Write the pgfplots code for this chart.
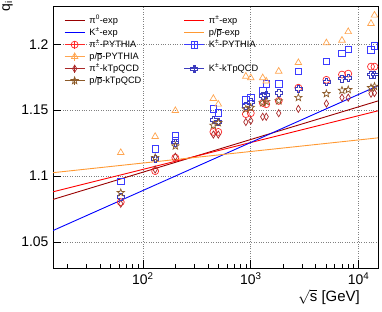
\documentclass[border=0pt]{standalone}
\usepackage{pgfplots}
\pgfplotsset{compat=1.18}
\usepackage{fontspec}
\setmainfont{Liberation Sans}

\definecolor{cPiZexp}{RGB}{153,0,0}
\definecolor{cPiexp}{RGB}{255,0,0}
\definecolor{cKexp}{RGB}{0,0,255}
\definecolor{cPexp}{RGB}{255,153,51}
\definecolor{cPiPY}{RGB}{255,40,40}
\definecolor{cKPY}{RGB}{60,60,255}
\definecolor{cPPY}{RGB}{255,165,80}
\definecolor{cPiKT}{RGB}{170,40,40}
\definecolor{cKKT}{RGB}{60,60,190}
\definecolor{cPKT}{RGB}{140,90,40}

\pgfdeclareplotmark{ostar}{%
  \pgfpathmoveto{\pgfpointpolar{90}{\pgfplotmarksize}}%
  \pgfpathlineto{\pgfpointpolar{126}{0.42\pgfplotmarksize}}%
  \pgfpathlineto{\pgfpointpolar{162}{\pgfplotmarksize}}%
  \pgfpathlineto{\pgfpointpolar{198}{0.42\pgfplotmarksize}}%
  \pgfpathlineto{\pgfpointpolar{234}{\pgfplotmarksize}}%
  \pgfpathlineto{\pgfpointpolar{270}{0.42\pgfplotmarksize}}%
  \pgfpathlineto{\pgfpointpolar{306}{\pgfplotmarksize}}%
  \pgfpathlineto{\pgfpointpolar{342}{0.42\pgfplotmarksize}}%
  \pgfpathlineto{\pgfpointpolar{18}{\pgfplotmarksize}}%
  \pgfpathlineto{\pgfpointpolar{54}{0.42\pgfplotmarksize}}%
  \pgfpathclose\pgfusepathqstroke}
\pgfdeclareplotmark{ocross}{%
  \pgfpathmoveto{\pgfpoint{0.35\pgfplotmarksize}{\pgfplotmarksize}}%
  \pgfpathlineto{\pgfpoint{-0.35\pgfplotmarksize}{\pgfplotmarksize}}%
  \pgfpathlineto{\pgfpoint{-0.35\pgfplotmarksize}{0.35\pgfplotmarksize}}%
  \pgfpathlineto{\pgfpoint{-\pgfplotmarksize}{0.35\pgfplotmarksize}}%
  \pgfpathlineto{\pgfpoint{-\pgfplotmarksize}{-0.35\pgfplotmarksize}}%
  \pgfpathlineto{\pgfpoint{-0.35\pgfplotmarksize}{-0.35\pgfplotmarksize}}%
  \pgfpathlineto{\pgfpoint{-0.35\pgfplotmarksize}{-\pgfplotmarksize}}%
  \pgfpathlineto{\pgfpoint{0.35\pgfplotmarksize}{-\pgfplotmarksize}}%
  \pgfpathlineto{\pgfpoint{0.35\pgfplotmarksize}{-0.35\pgfplotmarksize}}%
  \pgfpathlineto{\pgfpoint{\pgfplotmarksize}{-0.35\pgfplotmarksize}}%
  \pgfpathlineto{\pgfpoint{\pgfplotmarksize}{0.35\pgfplotmarksize}}%
  \pgfpathlineto{\pgfpoint{0.35\pgfplotmarksize}{0.35\pgfplotmarksize}}%
  \pgfpathclose\pgfusepathqstroke}
\pgfdeclareplotmark{odiam}{%
  \pgfpathmoveto{\pgfpoint{0pt}{\pgfplotmarksize}}%
  \pgfpathlineto{\pgfpoint{0.6\pgfplotmarksize}{0pt}}%
  \pgfpathlineto{\pgfpoint{0pt}{-\pgfplotmarksize}}%
  \pgfpathlineto{\pgfpoint{-0.6\pgfplotmarksize}{0pt}}%
  \pgfpathclose\pgfusepathqstroke}

\pgfplotsset{
  expleg/.style={legend image code/.code={\draw[##1] (0bp,0bp) -- (20bp,0bp);}},
  mkleg/.style={legend image code/.code={%
     \draw[##1] (0bp,0bp) -- (20bp,0bp);
     \draw[##1] (10bp,-4bp) -- (10bp,4bp);
     \draw[##1] plot coordinates {(10bp,0bp)};}},
}

\newcommand{\pbar}{p/$\overline{\mbox{p}}$}

\begin{document}
\begin{tikzpicture}
\begin{axis}[
  scale only axis, width=325bp, height=262bp,
  xmode=log, xmin=14.7, xmax=15100, ymin=1.0303, ymax=1.229,
  axis line style={line width=0.8bp},
  xtick={100,1000,10000},
  xticklabels={10\textsuperscript{2},10\textsuperscript{3},10\textsuperscript{4}},
  minor xtick={20,30,40,50,60,70,80,90,200,300,400,500,600,700,800,900,2000,3000,4000,5000,6000,7000,8000,9000},
  ytick={1.05,1.1,1.15,1.2},
  yticklabels={1.05,1.1,1.15,1.2},
  tick align=inside, xtick pos=lower, ytick pos=left,
  major tick length=8bp, minor tick length=4.5bp,
  tick style={black, line width=0.6bp},
  grid=major, grid style={dotted, gray, line width=0.6bp},
  tick label style={font=\fontsize{14}{14}\selectfont},
  xticklabel style={yshift=-1bp},
  yticklabel style={xshift=-1bp},
  clip marker paths=true,
  legend columns=2,
  legend cell align=left,
  legend style={draw=none, fill=none, at={(rel axis cs:0,1)}, anchor=north west,
     xshift=11bp, yshift=-8.5bp, inner sep=0pt, row sep=0pt,
     font=\fontsize{9.3}{9.5}\selectfont,
     nodes={text height=7.3bp, text depth=2.1bp, inner sep=1.3bp, text width=90bp},
     column sep=3bp},
]
% experimental fits
\addplot[cPiZexp, line width=0.9bp, expleg] coordinates {(14.7,1.0823) (15100,1.157)};
\addlegendentry{π\textsuperscript{0}-exp}
\addplot[cPiexp, line width=0.9bp, expleg] coordinates {(14.7,1.0881) (15100,1.1495)};
\addlegendentry{π\textsuperscript{±}-exp}
\addplot[cKexp, line width=0.9bp, expleg] coordinates {(14.7,1.0587) (15100,1.1685)};
\addlegendentry{K\textsuperscript{±}-exp}
\addplot[cPexp, line width=0.9bp, expleg] coordinates {(14.7,1.1026) (15100,1.129)};
\addlegendentry{\pbar-exp}
% pi PYTHIA
\addplot[cPiPY, only marks, mark=o, mark size=3.5bp, line width=0.7bp, mkleg] coordinates {
(62.4,1.0803) (130,1.1038) (200,1.114) (450,1.1335) (500,1.1335) (900,1.147) (1000,1.1477)
(1290,1.1555) (1390,1.1545) (1815,1.157) (2760,1.167) (5020,1.173) (7000,1.177) (8000,1.1777)
(13000,1.183) (14000,1.183)};
\addlegendentry{π\textsuperscript{±}-PYTHIA}
% K PYTHIA
\addplot[cKPY, only marks, mark=square, mark size=3.2bp, line width=0.7bp, mkleg] coordinates {
(62.4,1.0962) (130,1.1208) (200,1.1304) (200,1.127) (450,1.151) (500,1.148) (900,1.1577) (1000,1.1595)
(1290,1.1652) (1390,1.170) (1815,1.170) (2760,1.1795) (5020,1.187) (7000,1.193) (8000,1.196)
(13000,1.1957) (14000,1.1987)};
\addlegendentry{K\textsuperscript{±}-PYTHIA}
% p PYTHIA
\addplot[cPPY, only marks, mark=triangle, mark size=3.8bp, line width=0.7bp, mkleg] coordinates {
(62.4,1.1178) (130,1.130) (200,1.1496) (450,1.1588) (500,1.1545) (900,1.1757) (1000,1.1745)
(1290,1.1745) (1390,1.172) (1815,1.1795) (2760,1.186) (5020,1.201) (7000,1.203) (8000,1.2095)
(13000,1.2157) (14000,1.222)};
\addlegendentry{\pbar-PYTHIA}
\addlegendimage{empty legend}
\addlegendentry{}
% pi kTpQCD
\addplot[cPiKT, only marks, mark=odiam, mark size=3.6bp, line width=0.7bp, mkleg] coordinates {
(62.4,1.079) (130,1.105) (200,1.1147) (450,1.1315) (500,1.1315) (900,1.141) (1000,1.142)
(1290,1.145) (1390,1.145) (1815,1.1477) (2760,1.151) (5020,1.155) (7000,1.1595) (8000,1.1595)
(13000,1.1625) (14000,1.163)};
\addlegendentry{π\textsuperscript{±}-kTpQCD}
% K kTpQCD
\addplot[cKKT, only marks, mark=ocross, mark size=3.5bp, line width=0.7bp, mkleg] coordinates {
(62.4,1.0843) (130,1.1132) (200,1.1254) (450,1.1427) (500,1.141) (900,1.1532) (1000,1.156)
(1290,1.1607) (1390,1.1615) (1815,1.163) (2760,1.166) (5020,1.1715) (7000,1.174) (8000,1.1745)
(13000,1.177) (14000,1.177)};
\addlegendentry{K\textsuperscript{±}-kTpQCD}
% p kTpQCD
\addplot[cPKT, only marks, mark=ostar, mark size=3.8bp, line width=0.7bp, mkleg] coordinates {
(62.4,1.0874) (130,1.114) (200,1.1228) (450,1.1385) (500,1.1405) (900,1.1508) (1000,1.152)
(1290,1.1555) (1390,1.1565) (1815,1.157) (2760,1.1595) (5020,1.1625) (7000,1.165) (8000,1.1655)
(13000,1.167) (14000,1.168)};
\addlegendentry{\pbar-kTpQCD}
\end{axis}
\node[anchor=north east, inner sep=0pt, font=\fontsize{15}{15}\selectfont]
  at ([xshift=-18bp,yshift=-21bp]current axis.south east) {$\sqrt{\mbox{s}}$ [GeV]};
\node[rotate=90, anchor=south east, inner sep=0pt, font=\fontsize{14}{14}\selectfont]
  at ([xshift=-40bp,yshift=5bp]current axis.north west) {q\textsubscript{i}};
\pgfresetboundingbox
\path ([xshift=-53bp,yshift=-44bp]current axis.south west) rectangle ([xshift=4bp,yshift=6bp]current axis.north east);
\end{tikzpicture}
\end{document}
